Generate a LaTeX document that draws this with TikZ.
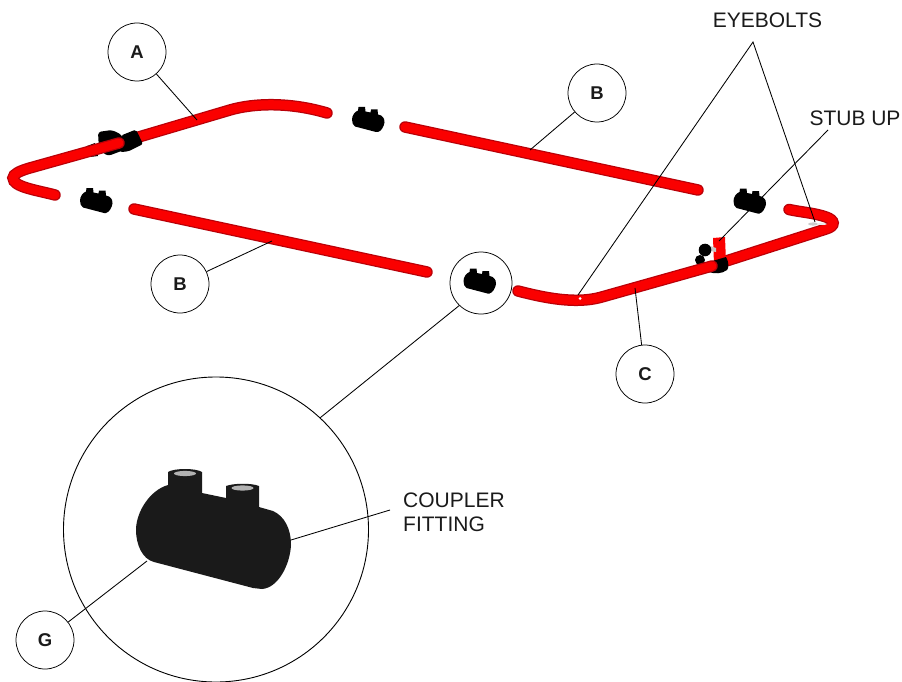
\documentclass[tikz,border=0pt]{standalone}
\usepackage{fontspec}
\setmainfont{Liberation Sans}
\definecolor{pipeedge}{RGB}{185,0,8}
\definecolor{pipecore}{RGB}{250,0,0}
\definecolor{fitblack}{RGB}{26,26,26}
\tikzset{
  x=1pt,y=-1pt,
  callout/.style={circle,draw=black,fill=white,line width=0.75pt,minimum size=58pt,inner sep=0pt,font=\fontsize{18.5}{18.5}\selectfont\bfseries,text=fitblack},
  leader/.style={draw=black,line width=0.85pt},
  label/.style={font=\fontsize{21}{24}\selectfont,text=fitblack,align=left,inner sep=0pt},
  pipeline/.style={draw=pipeedge,line width=11.5pt,line cap=round,postaction={draw=pipecore,line width=9pt}},
  fitshape/.pic={
    \fill[fitblack] (-78,0) .. controls (-78,-18) and (-64,-40) .. (-46,-45)
      -- (-46,-58) .. controls (-40,-62) and (-18,-62) .. (-12,-58)
      -- (-12,-37) -- (12,-32) -- (12,-44) .. controls (20,-47) and (38,-47) .. (45,-44)
      -- (45,-23) -- (59,-19) .. controls (70,-14) and (77,-2) .. (77,15)
      .. controls (76,35) and (64,58) .. (48,59) -- (39,58) -- (-60,32)
      .. controls (-72,29) and (-78,14) .. (-78,0) -- cycle;
    \fill[gray!60] (-29,-56.5) ellipse (11 and 2.6);
    \fill[gray!60] (28.5,-42) ellipse (11 and 2.6);
  },
  smallfit/.pic={
    \fill[black] (-16,0) .. controls (-16,-4) and (-13,-8) .. (-10,-9)
      -- (-9.5,-12.5) -- (-3,-12.5) -- (-2.5,-8) -- (2.5,-7) -- (3,-10) -- (9.5,-10) -- (10,-5)
      -- (13,-4) .. controls (16,-2) and (17,1) .. (16.5,3)
      .. controls (16,7) and (13,12) .. (10,12.5) -- (8,12.5) -- (-13,7)
      .. controls (-15,6) and (-16,3) .. (-16,0) -- cycle;
  }
}
\begin{document}
\begin{tikzpicture}
\useasboundingbox (0,0) rectangle (902,682);
% large detail circle
\node[circle,draw=black,line width=0.9pt,minimum size=305pt,inner sep=0pt] (big) at (216,529.5) {};
% pipe A, far side of the collar
\coordinate (athree) at (132,139);
\coordinate (afour) at (327,113);
\draw[pipeline] (athree) -- (230,110) .. controls (254,103) and (290,102) .. (afour);
% coupler A
\fill[black,rounded corners=3pt] (98,132) -- (112,130) -- (122,135) -- (124,150) -- (108,156) -- (99,150) -- cycle;
\fill[black,rounded corners=2pt] (121,135.5) -- (136,129.5) -- (143,144) -- (128,151.5) -- (120,152) -- cycle;
\fill[black] (87,146) -- (95,143) -- (98,156) -- (90,157) -- cycle;
% pipe A, near side of the collar
\coordinate (aone) at (55,195);
\coordinate (atwo) at (119,143);
\draw[pipeline] (aone) .. controls (36,190) and (13,187) .. (13,178)
  .. controls (13,174) and (20,171) .. (28,168.5) -- (atwo);
% pipes B
\coordinate (bone) at (405,127);
\coordinate (btwo) at (698,190);
\coordinate (bthree) at (134,209);
\coordinate (bfour) at (427,272);
\draw[pipeline] (bone) -- (btwo);
\draw[pipeline] (bthree) -- (bfour);
% pipe C, far side of the collar
\coordinate (cthree) at (720,263);
\coordinate (cfour) at (789,209.5);
\draw[pipeline] (cthree) -- (826,229) .. controls (836,226) and (835,220) .. (826,217) .. controls (815,213) and (800,212) .. (cfour);
% stub up
\fill[pipecore] (713,238) -- (725,237) -- (726,262) -- (714,264) -- cycle;
\fill[gray!45] (710,246) -- (716,248) -- (716,252) -- (710,251) -- cycle;
\fill[black] (705,250) circle (6.3);
\fill[black] (700,260) circle (5);
\fill[black] (709,262) -- (726,257) .. controls (729,262) and (729,268) .. (727,270) .. controls (722,274) and (714,274) .. (709,272) -- cycle;
% pipe C, near side of the collar
\coordinate (cone) at (518,291);
\coordinate (ctwo) at (712,266);
\draw[pipeline] (cone) .. controls (545,298) and (575,304) .. (600,297.5) -- (ctwo);
\fill[white] (580,298.5) circle (1.5);
\fill[gray!40] (813,224) ellipse (5 and 1.6);
\fill[white!85!gray] (822,224) ellipse (5 and 1);
% small fittings
\pic at (368,119.5) {smallfit};
\pic at (96,200.5) {smallfit};
\pic at (749.5,201) {smallfit};
% callouts
\node[callout] (A) at (137,52) {A};
\node[callout] (Btop) at (597,93) {B};
\node[callout] (Blow) at (180,284) {B};
\node[callout] (C) at (645,374) {C};
\node[callout,fill=none,minimum size=62pt] (small) at (481,283) {};
\pic at (479.5,281) {smallfit};
% big fitting
\pic at (214,530) {fitshape};
\node[callout] (G) at (45,640) {G};
% labels
\node[label,anchor=center] (eye) at (767.5,20) {EYEBOLTS};
\node[label,anchor=center] (stub) at (855,118) {STUB UP};
\node[label,anchor=west] (coupler) at (403,512.5) {COUPLER\\FITTING};
% leaders
\coordinate (aend) at (197,120);
\coordinate (btopend) at (530,150);
\coordinate (blowend) at (272,241);
\coordinate (cend) at (635,288);
\coordinate (gend) at (147,561);
\coordinate (eyefork) at (753,42);
\coordinate (eyeleft) at (578,295);
\coordinate (eyeright) at (815,222);
\coordinate (stubfork) at (828,130);
\coordinate (stubend) at (719,241);
\coordinate (couplerstart) at (390,510);
\coordinate (couplerend) at (291,540);
\path[leader] (A) -- (aend);
\path[leader] (Btop) -- (btopend);
\path[leader] (Blow) -- (blowend);
\path[leader] (C) -- (cend);
\path[leader] (G) -- (gend);
\path[leader] (small.226) -- (big.47);
\path[leader] (eyeleft) -- (eyefork) -- (eyeright);
\path[leader] (stubfork) -- (stubend);
\path[leader] (couplerstart) -- (couplerend);
\end{tikzpicture}
\end{document}
